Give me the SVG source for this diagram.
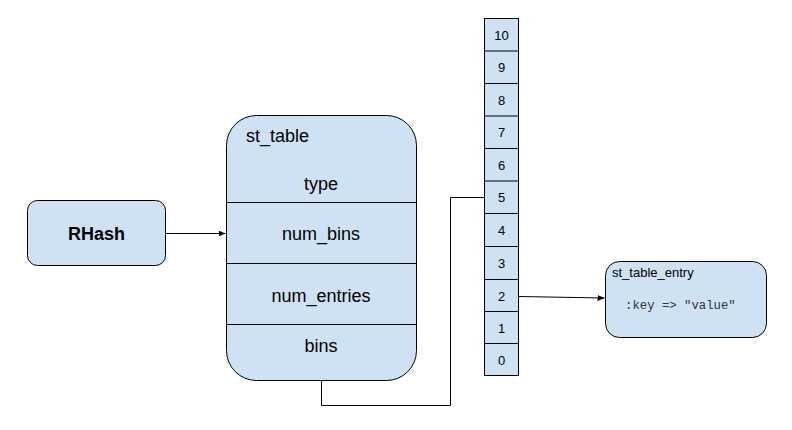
<svg xmlns="http://www.w3.org/2000/svg" width="792" height="430" viewBox="0 0 792 430">
<defs>
<style>
.box{fill:#cfe2f3;stroke:#000;stroke-width:1}
.ln{stroke:#000;stroke-width:1;fill:none}
.t{font-family:"Liberation Sans",Arial,sans-serif;fill:#000}
.c{font-size:13px;text-anchor:middle}
.m{font-family:"Liberation Mono","Courier New",monospace;fill:#333;font-size:12.3px}
</style>
<marker id="arr" markerWidth="8" markerHeight="8" refX="7" refY="4" orient="auto" markerUnits="userSpaceOnUse">
<path d="M0,1 L7,4 L0,7 Z" fill="#000"/>
</marker>
</defs>
<rect width="792" height="430" fill="#fff"/>
<g id="rhash">
<rect class="box" x="27.5" y="200.5" width="138" height="65" rx="10"/>
<text class="t" x="96.5" y="240" font-size="18" font-weight="bold" text-anchor="middle">RHash</text>
</g>
<g id="st_table">
<rect class="box" x="226.5" y="115.5" width="190" height="265" rx="30"/>
<line class="ln" x1="226.5" y1="202.5" x2="416.5" y2="202.5"/>
<line class="ln" x1="226.5" y1="263.5" x2="416.5" y2="263.5"/>
<line class="ln" x1="226.5" y1="324.5" x2="416.5" y2="324.5"/>
<text class="t" x="246" y="142" font-size="18">st_table</text>
<text class="t" x="321" y="190" font-size="18" text-anchor="middle">type</text>
<text class="t" x="321" y="240" font-size="18" text-anchor="middle">num_bins</text>
<text class="t" x="321" y="302" font-size="18" text-anchor="middle">num_entries</text>
<text class="t" x="321" y="352" font-size="18" text-anchor="middle">bins</text>
</g>
<g id="bins_array">
<rect class="box" x="484.5" y="18.5" width="34" height="357"/>
<line class="ln" x1="484.5" y1="51" x2="518.5" y2="51"/>
<line class="ln" x1="484.5" y1="83.5" x2="518.5" y2="83.5"/>
<line class="ln" x1="484.5" y1="116" x2="518.5" y2="116"/>
<line class="ln" x1="484.5" y1="148.5" x2="518.5" y2="148.5"/>
<line class="ln" x1="484.5" y1="181" x2="518.5" y2="181"/>
<line class="ln" x1="484.5" y1="213.5" x2="518.5" y2="213.5"/>
<line class="ln" x1="484.5" y1="246.5" x2="518.5" y2="246.5" stroke-width="2.2"/>
<line class="ln" x1="484.5" y1="279.5" x2="518.5" y2="279.5" stroke-width="2.2"/>
<line class="ln" x1="484.5" y1="311.5" x2="518.5" y2="311.5"/>
<line class="ln" x1="484.5" y1="343.5" x2="518.5" y2="343.5"/>
<text class="t c" x="501.5" y="39.5">10</text>
<text class="t c" x="501.5" y="72">9</text>
<text class="t c" x="501.5" y="104.5">8</text>
<text class="t c" x="501.5" y="137">7</text>
<text class="t c" x="501.5" y="169.5">6</text>
<text class="t c" x="501.5" y="202">5</text>
<text class="t c" x="501.5" y="234.5">4</text>
<text class="t c" x="501.5" y="268">3</text>
<text class="t c" x="501.5" y="301">2</text>
<text class="t c" x="501.5" y="332.5">1</text>
<text class="t c" x="501.5" y="364.5">0</text>
</g>
<g id="st_table_entry">
<rect class="box" x="605.5" y="261.5" width="161" height="76" rx="14"/>
<text class="t" x="612" y="277" font-size="13">st_table_entry</text>
<text class="m" x="625" y="308.5">:key =&gt; "value"</text>
</g>
<g id="connectors">
<line class="ln" x1="165.5" y1="233.5" x2="225.5" y2="233.5" marker-end="url(#arr)"/>
<polyline class="ln" points="321.5,380.5 321.5,405.5 450.5,405.5 450.5,197.5 484.5,197.5"/>
<line class="ln" x1="518.5" y1="296.5" x2="604.5" y2="298" marker-end="url(#arr)"/>
</g>
</svg>
